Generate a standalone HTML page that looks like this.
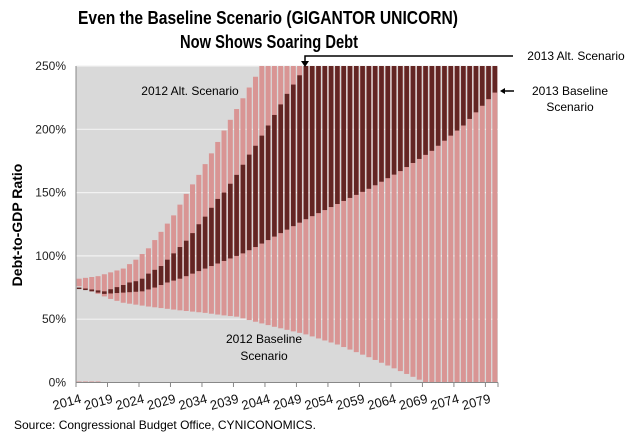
<!DOCTYPE html>
<html><head><meta charset="utf-8"><style>
html,body{margin:0;padding:0;background:#fff;}
svg{display:block;font-family:"Liberation Sans",sans-serif;}
</style></head><body>
<svg id="c" width="640" height="439" viewBox="0 0 640 439" xmlns="http://www.w3.org/2000/svg">
<rect x="0" y="0" width="640" height="439" fill="#fff"/>
<text x="268" y="24" text-anchor="middle" font-size="18" font-weight="bold" textLength="380" lengthAdjust="spacingAndGlyphs">Even the Baseline Scenario (GIGANTOR UNICORN)</text>
<text x="269" y="48" text-anchor="middle" font-size="18" font-weight="bold" textLength="178" lengthAdjust="spacingAndGlyphs">Now Shows Soaring Debt</text>
<rect x="76" y="66" width="422" height="316.5" fill="#d9d9d9"/>
<g id="grid" stroke="#f2f2f2" stroke-width="1.2"></g>
<g id="bars"></g>
<line x1="76" y1="66" x2="76" y2="382.5" stroke="#888" stroke-width="1"/>
<line x1="76" y1="382.5" x2="498" y2="382.5" stroke="#888" stroke-width="1"/>
<g id="yl" font-size="12" text-anchor="end" fill="#222"></g>
<g id="xl" font-size="13" fill="#111"></g>
<text transform="translate(22,225) rotate(-90)" text-anchor="middle" font-size="14" font-weight="bold">Debt-to-GDP Ratio</text>
<text x="190" y="95" text-anchor="middle" font-size="12">2012 Alt. Scenario</text>
<text x="264" y="343" text-anchor="middle" font-size="12">2012 Baseline</text>
<text x="264" y="360" text-anchor="middle" font-size="12">Scenario</text>
<text x="576" y="60" text-anchor="middle" font-size="12">2013 Alt. Scenario</text>
<text x="570" y="95" text-anchor="middle" font-size="12">2013 Baseline</text>
<text x="570" y="111" text-anchor="middle" font-size="12">Scenario</text>
<polyline points="513,56 305,56 305,63" fill="none" stroke="#000" stroke-width="1.5"/>
<polygon points="301,61 309,61 305,67" fill="#000"/>
<line x1="503" y1="91" x2="514" y2="91" stroke="#000" stroke-width="1.5"/>
<polygon points="500,91 505,88 505,94" fill="#000"/>
<text x="14" y="429" font-size="12">Source: Congressional Budget Office, CYNICONOMICS.</text>
</svg>
<script>
(function(){
var NS="http://www.w3.org/2000/svg";
function el(t,a,p){var e=document.createElementNS(NS,t);for(var k in a)e.setAttribute(k,a[k]);p.appendChild(e);return e;}
function Y(v){return 382.5-v*1.266;}
function interp(pts,yr){for(var i=0;i<pts.length-1;i++){if(yr<=pts[i+1][0]){var a=pts[i],b=pts[i+1];return a[1]+(b[1]-a[1])*(yr-a[0])/(b[0]-a[0]);}}return pts[pts.length-1][1];}
var pTop=[[2014,82],[2017,84],[2019,87],[2021,90],[2023,97],[2025,106],[2027,119],[2029,132],[2031,149],[2033,164],[2035,181],[2037,199],[2043,250],[2080,250]];
var pBot=[[2014,76],[2017,70],[2019,66],[2021,63],[2025,60],[2030,57],[2034,55],[2037,53],[2039,52],[2042,48],[2045,44],[2050,38],[2055,30],[2060,20],[2065,9],[2069,0],[2080,0]];
var dTop=[[2014,75],[2018,72],[2021,77],[2022,79],[2023,80],[2024,82],[2025,86],[2026,89],[2027,92],[2028,97],[2029,102],[2030,107],[2031,112],[2032,118],[2033,125],[2034,131],[2035,138],[2036,145],[2037,150],[2038,157],[2039,164],[2040,172],[2041,180],[2042,187],[2044,203],[2047,228],[2050,250],[2080,250]];
var dBot=[[2014,74],[2018,70],[2021,71],[2024,72],[2026,75],[2028,79],[2030,82],[2032,86],[2034,90],[2036,94],[2038,98],[2040,102],[2042,107],[2046,118],[2050,129],[2055,141],[2060,153],[2065,167],[2070,183],[2075,203],[2080,229]];
var g=document.getElementById('grid');
for(var v=50;v<=250;v+=50){el('line',{x1:76,x2:498,y1:Y(v),y2:Y(v)},g);}
var yl=document.getElementById('yl');
for(var v=0;v<=250;v+=50){var t=el('text',{x:66,y:Y(v)+4},yl);t.textContent=v+'%';}
var b=document.getElementById('bars');
var slot=422/67;
for(var i=0;i<67;i++){var yr=2014+i;var cx=76+slot*(i+0.5);
 var t1=interp(pTop,yr),b1=interp(pBot,yr);
 el('rect',{x:cx-2.5,y:Y(t1),width:5,height:Y(b1)-Y(t1),fill:'#d99594'},b);
 if(yr<=2017) el('rect',{x:cx-2.5,y:Y(0.8),width:5,height:1,fill:'#d99594'},b);
 var t2=interp(dTop,yr),b2=interp(dBot,yr);
 el('rect',{x:cx-2.3,y:Y(t2),width:4.6,height:Math.max(1.5,Y(b2)-Y(t2)),fill:'#632523'},b);
}
var xl=document.getElementById('xl');
for(var i=0;i<67;i+=5){var x=76+slot*i;
 el('line',{x1:x,x2:x,y1:382.5,y2:387,stroke:'#888'},b);
 var t=el('text',{transform:'translate('+(x-22)+',410) rotate(-15)'},xl);t.textContent=2014+i;}
el('line',{x1:498,x2:498,y1:382.5,y2:387,stroke:'#888'},b);
})();
</script>
</body></html>
